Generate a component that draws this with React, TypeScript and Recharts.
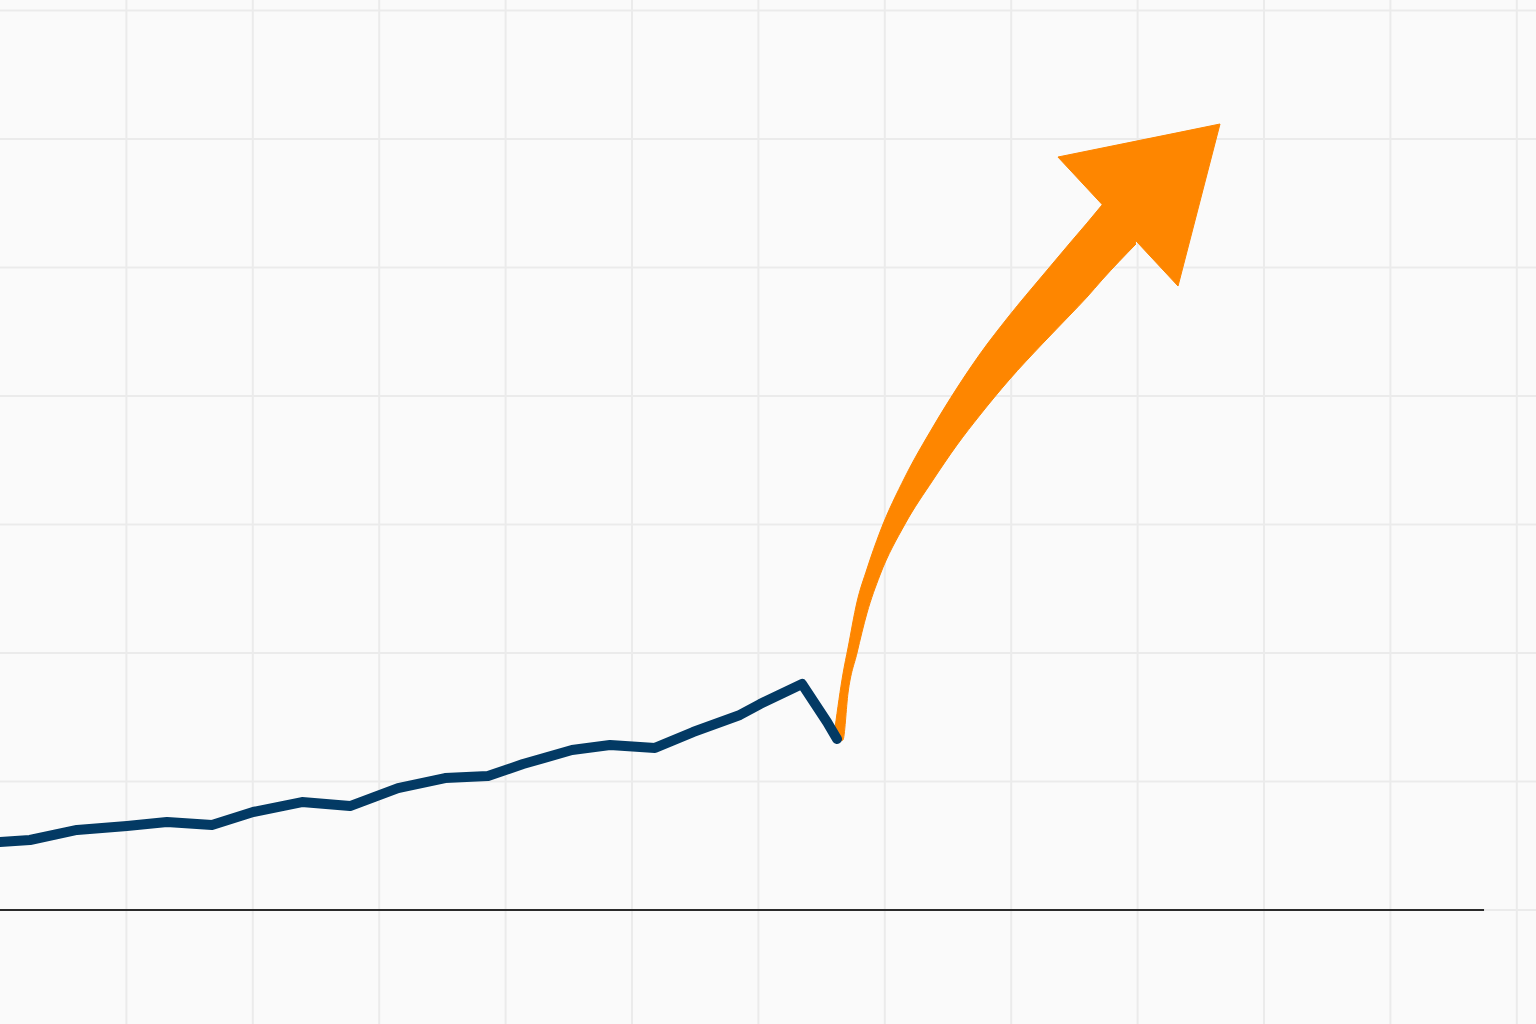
import { ComposedChart, Line, Area, XAxis, YAxis, CartesianGrid, ReferenceLine } from 'recharts';

// grid columns / rows (one unit per cell)
const COLUMNS = [0, 1, 2, 3, 4, 5, 6, 7, 8, 9, 10, 11, 12];
const ROWS = [0, 1, 2, 3, 4, 5, 6, 7];

// historical trend (dark blue line)
const trendX = [
  0, 0.237, 0.609, 1.005, 1.321, 1.677, 2.002, 2.389, 2.769, 3.149, 3.521,
  3.861, 4.138, 4.525, 4.826, 5.182, 5.483, 5.854, 6.013, 6.345, 6.543, 6.622,
];
const trendY = [
  0.529, 0.545, 0.623, 0.654, 0.685, 0.661, 0.763, 0.84, 0.809, 0.949, 1.027,
  1.043, 1.136, 1.245, 1.284, 1.261, 1.385, 1.518, 1.603, 1.759, 1.463, 1.331,
];

// projected growth: arrow shaft band
const shaftX = [
  6.606, 6.669, 6.709, 6.78, 6.859, 6.962, 7.16, 7.381, 7.571, 7.753, 7.983,
  8.252, 8.465, 8.6, 8.718, 8.987,
];
const shaftUpper = [
  1.416, 1.837, 2.039, 2.397, 2.654, 2.942, 3.37, 3.759, 4.062, 4.327, 4.623,
  4.942, 5.191, 5.346, 5.486, 5.798,
];
const shaftLower = [
  1.307, 1.323, 1.689, 2.0, 2.311, 2.607, 3.004, 3.346, 3.619, 3.852, 4.125,
  4.412, 4.63, 4.77, 4.903, 5.183,
];

// arrow head
const headX = [8.37, 9.32, 9.652];
const headUpper = [5.86, 6.05, 6.117];
const headLower = [5.86, 4.856, 6.117];

const BASELINE_END = 11.741;

const trendData = trendX.map((x, i) => ({ x, value: trendY[i] }));
const shaftData = shaftX.map((x, i) => ({ x, band: [shaftLower[i], shaftUpper[i]] }));
const headData = headX.map((x, i) => ({ x, band: [headLower[i], headUpper[i]] }));

const ORANGE = '#fe8600';
const NAVY = '#033a64';

export default function App() {
  return (
    <div style={{ position: 'absolute', left: 0, top: 0, width: 1536, height: 1024, background: '#fafafa' }}>
      <ComposedChart width={1536} height={1024} margin={{ top: 0, right: 0, bottom: 0, left: 0 }}>
        <CartesianGrid
          stroke="#ebebeb"
          strokeWidth={2}
          verticalValues={COLUMNS}
          horizontalValues={ROWS}
        />
        <XAxis type="number" dataKey="x" domain={[0, 12.152]} ticks={COLUMNS} hide allowDataOverflow />
        <YAxis type="number" domain={[-0.887, 7.082]} ticks={ROWS} hide width={0} allowDataOverflow />
        <ReferenceLine
          segment={[{ x: 0, y: 0 }, { x: BASELINE_END, y: 0 }]}
          stroke="#2b2b2b"
          strokeWidth={2}
          ifOverflow="visible"
        />
        <Area
          data={shaftData}
          dataKey="band"
          type="monotone"
          fill={ORANGE}
          fillOpacity={1}
          stroke={ORANGE}
          strokeWidth={1}
          isAnimationActive={false}
        />
        <Area
          data={headData}
          dataKey="band"
          type="linear"
          fill={ORANGE}
          fillOpacity={1}
          stroke={ORANGE}
          strokeWidth={1}
          isAnimationActive={false}
        />
        <Line
          data={trendData}
          dataKey="value"
          type="linear"
          stroke={NAVY}
          strokeWidth={10}
          strokeLinecap="round"
          strokeLinejoin="round"
          dot={false}
          activeDot={false}
          isAnimationActive={false}
        />
      </ComposedChart>
    </div>
  );
}
